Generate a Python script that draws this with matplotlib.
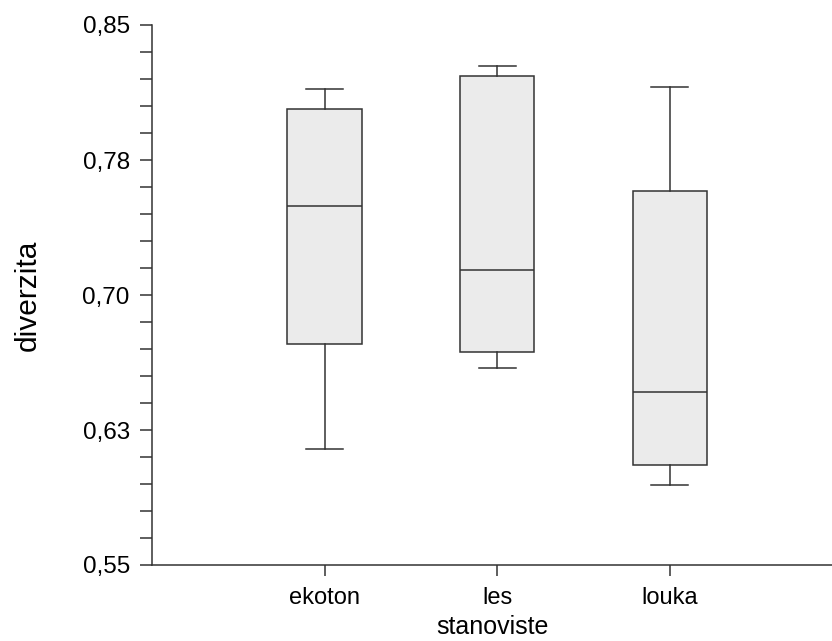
import matplotlib
matplotlib.use("Agg")
import matplotlib.pyplot as plt
from matplotlib.ticker import FixedLocator

plt.rcParams['font.family'] = ['Liberation Sans', 'DejaVu Sans']

# data
categories = ["ekoton", "les", "louka"]
whisker_low = [0.6146, 0.6596, 0.5944]
q1 = [0.6726, 0.6685, 0.6056]
medians = [0.7496, 0.7137, 0.6459]
q3 = [0.8032, 0.8218, 0.7576]
whisker_high = [0.8144, 0.8274, 0.8157]

yticks = [0.55, 0.625, 0.70, 0.775, 0.85]
ytick_labels = ["0,55", "0,63", "0,70", "0,78", "0,85"]

stats = []
for i in range(len(categories)):
    stats.append({
        "label": categories[i],
        "whislo": whisker_low[i],
        "q1": q1[i],
        "med": medians[i],
        "q3": q3[i],
        "whishi": whisker_high[i],
        "fliers": [],
    })

line_col = "#333333"
fig = plt.figure(figsize=(8.32, 6.41), dpi=100)
ax = fig.add_axes([152 / 832, 1 - 565 / 641, 1 - 152 / 832, (565 - 25) / 641])

ax.bxp(stats, positions=[1, 2, 3], widths=0.43, patch_artist=True,
       showfliers=False,
       boxprops=dict(facecolor="#ebebeb", edgecolor=line_col, linewidth=1.1),
       medianprops=dict(color=line_col, linewidth=1.1),
       whiskerprops=dict(color=line_col, linewidth=1.1),
       capprops=dict(color=line_col, linewidth=1.1),
       capwidths=0.215)

ax.set_xlim(0, 3.94)
ax.set_ylim(0.55, 0.85)
ax.yaxis.set_major_locator(FixedLocator(yticks))
ax.set_yticklabels(ytick_labels)
minor = [0.55 + k * 0.015 for k in range(21) if k % 5 != 0]
ax.yaxis.set_minor_locator(FixedLocator(minor))

for s in ["top", "right"]:
    ax.spines[s].set_visible(False)
for s in ["left", "bottom"]:
    ax.spines[s].set_color(line_col)
    ax.spines[s].set_linewidth(1.1)

ax.tick_params(axis="y", which="both", length=9, width=1.1, color=line_col,
               labelsize=17.5, pad=7)
ax.tick_params(axis="x", length=8, width=1.1, color=line_col, labelsize=17, pad=8)

ax.set_ylabel("diverzita", fontsize=21.5, labelpad=29)
ax.set_xlabel("stanoviste", fontsize=18, labelpad=4)

fig.savefig("out.png", dpi=100)
